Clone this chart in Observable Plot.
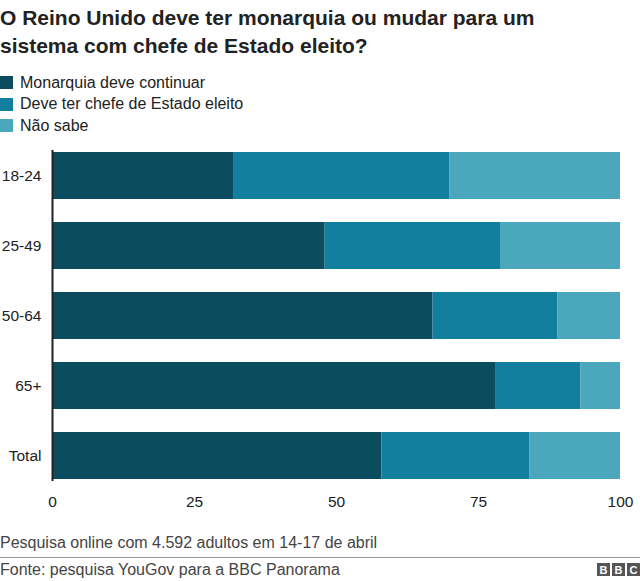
<!DOCTYPE html>
<html><head><meta charset="utf-8">
<script src="https://cdn.jsdelivr.net/npm/d3@7"></script>
<script src="https://cdn.jsdelivr.net/npm/@observablehq/plot@0.6"></script>
<style>
body{margin:0;background:#fff;font-family:"Liberation Sans",Arial,sans-serif;color:#222;width:640px;}
h1{font-size:21px;font-weight:bold;line-height:28px;margin:0;padding-top:4px;color:#222;max-width:540px;}
.legend{margin-top:12px;font-size:16px;}
.legend div{height:21.5px;display:flex;align-items:center;}
.sw{width:13px;height:13px;display:inline-block;margin-right:7px;}
#chart{height:381px;margin-top:3px;}
.note{font-size:16px;color:#444;margin-top:13px;line-height:18px;}
.sep{border-top:1px solid #999;margin-top:5px;}
.src{font-size:16px;color:#444;display:flex;justify-content:space-between;align-items:center;margin-top:3px;line-height:18px;}
.bbc{display:flex;gap:2px;margin-right:0;}
.bbc span{background:#555;color:#fff;font-weight:bold;font-size:11px;width:13px;height:13px;display:flex;align-items:center;justify-content:center;}
</style></head>
<body>
<h1>O Reino Unido deve ter monarquia ou mudar para um sistema com chefe de Estado eleito?</h1>
<div class="legend" id="legend"></div>
<div id="chart"></div>
<div class="note">Pesquisa online com 4.592 adultos em 14-17 de abril</div>
<div class="sep"></div>
<div class="src"><span>Fonte: pesquisa YouGov para a BBC Panorama</span><span class="bbc"><span>B</span><span>B</span><span>C</span></span></div>
<script>
const groups = ["18-24","25-49","50-64","65+","Total"];
const series = ["Monarquia deve continuar","Deve ter chefe de Estado eleito","Não sabe"];
const colors = ["#0b4c5f","#137f9f","#4aa7bc"];
const monarquia = [32,48,67,78,58];
const eleito = [38,31,22,15,26];
const naoSabe = [30,21,11,7,16];
const xTicks = [0,25,50,75,100];

const legend = document.getElementById("legend");
series.forEach((s,i)=>{
  const d=document.createElement("div");
  d.innerHTML=`<span class="sw" style="background:${colors[i]}"></span>${s}`;
  legend.appendChild(d);
});

const data = [];
groups.forEach((g,i)=>{
  data.push({group:g, series:series[0], value:monarquia[i]});
  data.push({group:g, series:series[1], value:eleito[i]});
  data.push({group:g, series:series[2], value:naoSabe[i]});
});

const chart = Plot.plot({
  width:640, height:381,
  marginLeft:52, marginRight:20, marginTop:10, marginBottom:40,
  style:{fontFamily:"'Liberation Sans',Arial,sans-serif", fontSize:"15.5px", color:"#222"},
  x:{domain:[0,100], ticks:xTicks, label:null, tickSize:0, tickPadding:14},
  y:{domain:groups, range:[0.5,350.5], paddingInner:0.33, paddingOuter:0.165, label:null, tickSize:0, tickPadding:11},
  color:{domain:series, range:colors},
  marks:[
    Plot.barX(data, Plot.stackX({x:"value", y:"group", fill:"series", order:series})),
    Plot.ruleX([0], {stroke:"#222", strokeWidth:2})
  ]
});
document.getElementById("chart").appendChild(chart);
</script>
</body></html>
